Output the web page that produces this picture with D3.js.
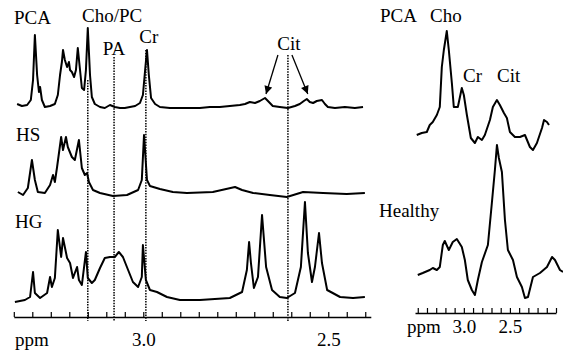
<!DOCTYPE html>
<html>
<head>
<meta charset="utf-8">
<script src="https://cdn.jsdelivr.net/npm/d3@7"></script>
<style>
  body { margin: 0; background: #fff; }
  svg { display: block; }
</style>
</head>
<body>
<svg id="chart"></svg>
<script>
// spectra: [ppm, intensity (a.u.)]
const pcaLeft = [
  [3.341,4],[3.328,2],[3.314,3],[3.304,8],[3.298,28],[3.293,73],[3.287,33],[3.282,16],[3.279,21],[3.274,8],
  [3.266,1],[3.252,2],[3.239,4],[3.231,13],[3.225,33],[3.220,46],[3.217,58],[3.212,48],[3.206,41],[3.201,46],
  [3.198,38],[3.193,36],[3.187,31],[3.182,38],[3.177,60],[3.171,38],[3.166,20],[3.160,18],[3.155,38],[3.150,80],
  [3.144,33],[3.139,11],[3.131,4],[3.117,1],[3.104,0],[3.090,3],[3.077,1],[3.063,0],[3.050,0],[3.036,1],
  [3.022,2],[3.009,5],[3.001,13],[2.995,38],[2.990,58],[2.985,33],[2.979,10],[2.968,4],[2.955,1],[2.928,0],
  [2.901,0],[2.874,0],[2.847,0],[2.820,1],[2.793,1],[2.766,2],[2.739,3],[2.725,4],[2.712,6],[2.698,5],
  [2.685,7],[2.671,10],[2.663,7],[2.650,2],[2.631,1],[2.609,0],[2.590,2],[2.577,4],[2.566,7],[2.558,9],
  [2.550,6],[2.541,5],[2.531,7],[2.517,8],[2.509,4],[2.501,1],[2.482,0],[2.455,1],[2.428,0],[2.406,1]
];
const hsLeft = [
  [3.339,1],[3.325,-2],[3.312,5],[3.301,33],[3.293,13],[3.285,1],[3.266,0],[3.252,8],[3.244,18],[3.239,11],
  [3.233,26],[3.222,56],[3.217,43],[3.209,56],[3.204,46],[3.193,36],[3.185,33],[3.174,53],[3.166,25],[3.158,18],
  [3.152,20],[3.147,11],[3.136,3],[3.117,0],[3.082,-3],[3.044,-2],[3.014,3],[3.004,13],[2.998,58],[2.990,13],
  [2.982,7],[2.955,4],[2.920,1],[2.882,0],[2.812,1],[2.752,6],[2.733,3],[2.703,0],[2.658,-2],[2.612,-4],
  [2.568,1],[2.514,0],[2.450,-1],[2.401,0]
];
const hgLeft = [
  [3.347,-3],[3.320,-1],[3.306,2],[3.298,27],[3.293,6],[3.279,1],[3.260,6],[3.252,22],[3.247,12],[3.239,21],
  [3.231,69],[3.222,42],[3.217,61],[3.206,41],[3.198,36],[3.190,21],[3.179,32],[3.174,19],[3.166,14],[3.155,47],
  [3.150,21],[3.139,16],[3.131,19],[3.117,31],[3.104,41],[3.090,42],[3.077,42],[3.066,47],[3.055,42],[3.041,29],
  [3.028,17],[3.014,12],[3.004,22],[3.001,54],[2.993,19],[2.982,9],[2.963,7],[2.936,2],[2.901,-1],[2.847,-1],
  [2.766,1],[2.733,7],[2.720,29],[2.714,57],[2.709,36],[2.701,11],[2.690,22],[2.679,84],[2.668,32],[2.652,9],
  [2.631,2],[2.612,1],[2.590,6],[2.574,32],[2.563,97],[2.555,46],[2.544,17],[2.536,32],[2.525,66],[2.517,36],
  [2.503,9],[2.468,2],[2.433,1],[2.401,2]
];
const pcaRight = [
  [3.511,15],[3.457,17],[3.402,18],[3.370,25],[3.337,28],[3.293,35],[3.261,43],[3.239,83],[3.217,100],[3.185,119],
  [3.163,100],[3.130,67],[3.109,43],[3.065,43],[3.022,62],[3.000,55],[2.967,35],[2.924,12],[2.880,7],[2.848,13],
  [2.804,10],[2.772,15],[2.717,30],[2.685,43],[2.641,50],[2.609,45],[2.565,37],[2.533,32],[2.500,18],[2.446,13],
  [2.391,13],[2.337,15],[2.283,3],[2.250,0],[2.207,7],[2.152,22],[2.130,30],[2.098,28],[2.076,25]
];
const healthyRight = [
  [3.500,25],[3.446,27],[3.370,30],[3.337,32],[3.293,30],[3.261,33],[3.228,55],[3.207,59],[3.163,50],[3.120,58],
  [3.076,61],[3.022,53],[2.989,40],[2.957,20],[2.913,10],[2.880,5],[2.848,20],[2.804,38],[2.739,55],[2.696,97],
  [2.663,130],[2.641,155],[2.620,142],[2.587,128],[2.554,80],[2.522,50],[2.467,40],[2.424,23],[2.370,13],[2.337,2],
  [2.304,3],[2.250,23],[2.174,27],[2.098,33],[2.043,43],[2.011,40],[1.957,30],[1.924,28]
];

// reference lines in the left panel
const markerNames = ["Cho/PC", "PA", "Cr", "Cit"];
const markerPpm = [3.150, 3.079, 2.993, 2.609];
const citPeaksPpm = [2.671, 2.558];

const leftTicks = d3.range(0, 20).map(i => +(3.35 - i * 0.05).toFixed(2));
const rightTicks = d3.range(0, 16).map(i => +(3.5 - i * 0.1).toFixed(1));
const tickLabels = ["3.0", "2.5"];

const width = 563, height = 352;
const font = "'Liberation Serif', 'Times New Roman', serif";

const svg = d3.select("#chart").attr("width", width).attr("height", height);

const defs = svg.append("defs");
defs.append("marker")
  .attr("id", "arrow")
  .attr("viewBox", "0 0 10 10")
  .attr("refX", 10).attr("refY", 5)
  .attr("markerWidth", 10).attr("markerHeight", 8)
  .attr("markerUnits", "userSpaceOnUse")
  .attr("orient", "auto")
  .append("path").attr("d", "M0,0L10,5L0,10Z").attr("fill", "#000");

const xLeft = d3.scaleLinear().domain([3.35, 2.385]).range([13.8, 370.8]);
const xRight = d3.scaleLinear().domain([3.53, 2.0]).range([415, 556]);

function yFor(base) {
  return d3.scaleLinear().domain([0, 100]).range([base, base - 100]);
}

function drawTrace(data, x, y) {
  const line = d3.line().x(d => x(d[0])).y(d => y(d[1]));
  svg.append("path")
    .datum(data)
    .attr("d", line)
    .attr("fill", "none")
    .attr("stroke", "#000")
    .attr("stroke-width", 2)
    .attr("stroke-linejoin", "round");
}

// dotted guide lines (behind spectra)
const guideTop = [80, 57, 50, 55];
svg.append("g").selectAll("line")
  .data(markerPpm)
  .enter().append("line")
  .attr("x1", d => xLeft(d)).attr("x2", d => xLeft(d))
  .attr("y1", (d, i) => guideTop[i]).attr("y2", 321)
  .attr("stroke", "#000")
  .attr("stroke-width", 1.5)
  .attr("stroke-dasharray", "1.5,1.2");

drawTrace(pcaLeft, xLeft, yFor(108));
drawTrace(hsLeft, xLeft, yFor(193));
drawTrace(hgLeft, xLeft, yFor(299));
drawTrace(pcaRight, xRight, yFor(150));
drawTrace(healthyRight, xRight, yFor(300));

// axes
function drawAxis(x, ticks, yPos, pad) {
  const g = svg.append("g")
    .attr("transform", "translate(0," + yPos + ")")
    .call(d3.axisBottom(x)
      .tickValues(ticks)
      .tickSizeInner(-5)
      .tickSizeOuter(0)
      .tickPadding(pad)
      .tickFormat(d => tickLabels.indexOf(d.toFixed(1)) >= 0 && Math.abs(d * 10 - Math.round(d * 10)) < 1e-6 ? d.toFixed(1) : ""));
  g.select(".domain").attr("stroke", "#000").attr("stroke-width", 1.6);
  g.selectAll(".tick line").attr("stroke", "#000").attr("stroke-width", 1.2);
  g.selectAll(".tick text")
    .attr("fill", "#000")
    .style("font-family", font)
    .style("font-size", "19px");
  return g;
}
drawAxis(xLeft, leftTicks, 317, 15.5);
drawAxis(xRight, rightTicks, 313, 6.5);

// text labels
function label(txt, x, y, anchor) {
  svg.append("text")
    .attr("x", x).attr("y", y)
    .attr("text-anchor", anchor || "start")
    .style("font-family", font)
    .style("font-size", "19px")
    .attr("fill", "#000")
    .text(txt);
}
label("PCA", 14, 24);
label("HS", 16, 141);
label("HG", 15, 228);
label(markerNames[0], 82, 22);
label(markerNames[1], xLeft(markerPpm[1]), 55, "middle");
label(markerNames[2], xLeft(markerPpm[2]) + 3, 43, "middle");
label(markerNames[3], xLeft(markerPpm[3]) + 1, 50, "middle");
label("ppm", 15, 346);

label("PCA", 380, 22);
label("Cho", 430, 22);
label("Cr", 463, 82);
label("Cit", 497, 82);
label("Healthy", 379, 217);
label("ppm", 407, 333);

// Cit arrows
svg.append("g").selectAll("line")
  .data(citPeaksPpm)
  .enter().append("line")
  .attr("x1", (d, i) => xLeft(markerPpm[3]) + (i === 0 ? -10 : 4))
  .attr("y1", 55)
  .attr("x2", d => xLeft(d) + 1)
  .attr("y2", 94)
  .attr("stroke", "#000")
  .attr("stroke-width", 1.3)
  .attr("marker-end", "url(#arrow)");
</script>
</body>
</html>
